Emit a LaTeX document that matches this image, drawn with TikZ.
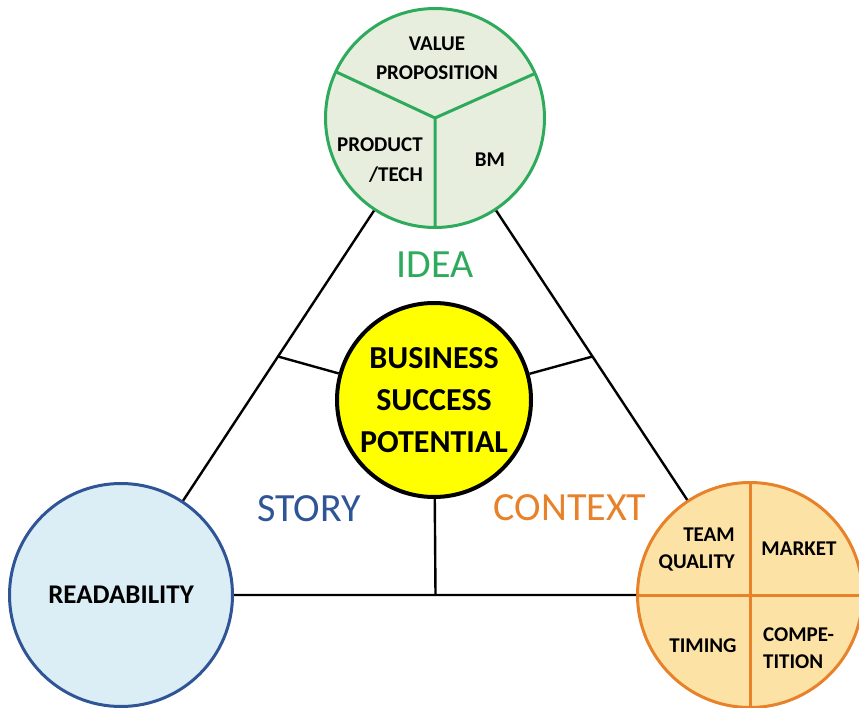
\documentclass[tikz,border=0pt]{standalone}
\usepackage{fontspec}
\setmainfont{Carlito}
\usetikzlibrary{calc}

\definecolor{ideagreen}{RGB}{46,170,92}
\definecolor{ideafill}{RGB}{231,238,221}
\definecolor{storyblue}{RGB}{47,85,151}
\definecolor{storyfill}{RGB}{219,237,245}
\definecolor{ctxorange}{RGB}{232,130,42}
\definecolor{ctxfill}{RGB}{253,226,165}
\definecolor{coreyellow}{RGB}{255,255,0}

\begin{document}
\begin{tikzpicture}
  [x=1pt,y=-1pt,
    every node/.style={inner sep=0pt},
    ball/.style={circle,line width=3pt,inner sep=0pt},
    part/.style={line width=3pt},
    link/.style={line width=2.4pt,black},
    small/.style={font=\bfseries\fontsize{21}{27}\selectfont,align=center},
    title/.style={font=\fontsize{40}{48}\selectfont},
  ]
  \useasboundingbox (0,0) rectangle (859,708);

  % the three outer circles and the core
  \node[ball,draw=ideagreen,fill=ideafill,minimum size=219pt] (idea) at (435,118) {};
  \node[ball,draw=storyblue,fill=storyfill,minimum size=223pt,
    font=\bfseries\fontsize{27}{32}\selectfont] (read) at (121,595) {READABILITY};
  \node[ball,draw=ctxorange,fill=ctxfill,minimum size=225pt] (ctx) at (750,595) {};
  \node[ball,line width=4pt,draw=black,fill=coreyellow,minimum size=194pt,align=center,
    font=\bfseries\fontsize{32}{42}\selectfont] (core) at (434,400) {BUSINESS\\SUCCESS\\POTENTIAL};

  % triangle and spokes
  \draw[link] (idea) -- (read) (read) -- (ctx) (ctx) -- (idea);
  \draw[link] (core) -- ($(idea)!0.5!(read)$);
  \draw[link] (core) -- ($(idea)!0.5!(ctx)$);
  \draw[link] (core) -- ($(read)!0.5!(ctx)$);

  % partitions
  \draw[part,ideagreen] (idea.center) -- +(155:110pt)
    (idea.center) -- +(24:110pt) (idea.center) -- +(270:110pt);
  \draw[part,ctxorange] (ctx.center) -- +(90:113pt) (ctx.center) -- +(270:113pt)
    (ctx.center) -- +(180:113pt) (ctx.center) -- +(0:113pt);

  % texts inside the circles
  \node[small,font=\bfseries\fontsize{21}{29}\selectfont] (value) at (437,58) {VALUE\\PROPOSITION};
  \node[small,align=right,anchor=east,font=\bfseries\fontsize{21}{30}\selectfont] (prodtech) at (423,160) {PRODUCT\\/TECH};
  \node[small] (bm) at (490,160) {BM};
  \node[small,align=right,anchor=east] (team) at (735,550) {TEAM\\QUALITY};
  \node[small] (market) at (799,549) {MARKET};
  \node[small] (timing) at (703,646) {TIMING};
  \node[small,align=left,anchor=west] (compe) at (763,648) {COMPE-\\TITION};

  % side labels
  \node[title,text=ideagreen] (idealbl) at (435,265) {IDEA};
  \node[title,text=storyblue] (storylbl) at (309,509) {STORY};
  \node[title,text=ctxorange] (ctxlbl) at (570,508) {CONTEXT};
\end{tikzpicture}
\end{document}
